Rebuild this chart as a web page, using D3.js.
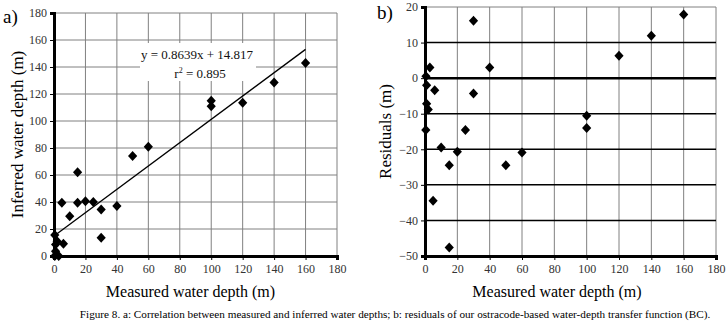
<!DOCTYPE html>
<html><head><meta charset="utf-8">
<script src="https://cdn.jsdelivr.net/npm/d3@7"></script>
<style>body{margin:0;background:#fff}svg{display:block}</style>
</head><body>
<script>
// Panel a: measured vs inferred water depth (m)
const measuredA = [0.5, 3, 1, 1, 2, 6, 0.5, 5, 10, 15, 15, 20, 25, 30, 30, 40, 50, 60, 100, 100, 120, 140, 160];
const inferredA = [0, 0, 3.5, 8.5, 11, 9, 15.5, 39.5, 29.5, 39.5, 62, 40.5, 40, 34.5, 13.5, 37, 74, 81, 111, 115, 113.5, 128.5, 143];
// Panel b: residuals (m)
const measuredB = [0.6, 3, 1, 1, 2, 6, 0.5, 5, 10, 15, 15, 20, 25, 30, 30, 40, 50, 60, 100, 100, 120, 140, 160];
const residualsB = [0.5, 3, -2, -7.2, -8.8, -3.4, -14.6, -34.5, -19.5, -24.5, -47.6, -20.7, -14.6, 16.1, -4.3, 3, -24.5, -20.9, -10.6, -14, 6.3, 11.9, 17.9];
const fitSlope = 0.8639, fitIntercept = 14.817;
const fitRange = [0, 160];
const ticksA_x = [0,20,40,60,80,100,120,140,160,180];
const ticksA_y = [0,20,40,60,80,100,120,140,160,180];
const ticksB_y = [-50,-40,-30,-20,-10,0,10,20];

const FONT = "'Liberation Serif', 'Times New Roman', 'DejaVu Serif', serif";
const W = 726, H = 324;
const svg = d3.select("body").append("svg").attr("width", W).attr("height", H)
  .style("font-family", FONT);
const diamond = "M0,-5L4.6,0L0,5L-4.6,0Z";
function txt(sel){ return sel.style("font-family", FONT); }

// ---------- Panel a ----------
const xa = d3.scaleLinear().domain([0,180]).range([54,337]);
const ya = d3.scaleLinear().domain([0,180]).range([256,13]);
const ga = svg.append("g");
ga.selectAll("line.vg").data(ticksA_x.slice(1)).join("line")
  .attr("x1", d=>xa(d)).attr("x2", d=>xa(d)).attr("y1", ya(0)).attr("y2", ya(180))
  .attr("stroke", "#808080").attr("stroke-width", 1);
ga.selectAll("line.hg").data(ticksA_y.slice(1)).join("line")
  .attr("x1", xa(0)).attr("x2", xa(180)).attr("y1", d=>ya(d)).attr("y2", d=>ya(d))
  .attr("stroke", "#808080").attr("stroke-width", 1);
// fit label background
ga.append("rect").attr("x", 140).attr("y", 43).attr("width", 116).attr("height", 38).attr("fill", "#fff");
txt(ga.append("text")).attr("x", 197).attr("y", 59).attr("text-anchor","middle").attr("font-size", 13).attr("fill","#111")
  .text("y = 0.8639x + 14.817");
const r2 = txt(ga.append("text")).attr("x", 200).attr("y", 78).attr("text-anchor","middle").attr("font-size", 13).attr("fill","#111");
r2.append("tspan").text("r");
r2.append("tspan").attr("font-size", 8).attr("dy", -5).text("2");
r2.append("tspan").attr("dy", 5).text(" = 0.895");
// regression line
ga.append("line").attr("x1", xa(fitRange[0])).attr("y1", ya(fitIntercept + fitSlope*fitRange[0]))
  .attr("x2", xa(fitRange[1])).attr("y2", ya(fitIntercept + fitSlope*fitRange[1]))
  .attr("stroke", "#000").attr("stroke-width", 1.3);
// axes
const axA_x = d3.axisBottom(xa).tickValues(ticksA_x).tickSize(4).tickPadding(4);
const axA_y = d3.axisLeft(ya).tickValues(ticksA_y).tickSize(4).tickPadding(3);
const gxa = ga.append("g").attr("transform", `translate(0,${ya(0)})`).call(axA_x);
const gya = ga.append("g").attr("transform", `translate(${xa(0)},0)`).call(axA_y);
function styleAxis(g){
  g.attr("font-family", null).style("font-family", FONT);
  g.select(".domain").attr("stroke", "#000").attr("stroke-width", 3);
  g.selectAll(".tick line").attr("stroke", "#000");
  g.selectAll(".tick text").style("font-family", FONT).attr("font-size", 12).attr("fill", "#333");
}
[gxa, gya].forEach(styleAxis);
// points
ga.selectAll("path.pt").data(measuredA.map((m,i)=>[m, inferredA[i]])).join("path")
  .attr("d", diamond).attr("transform", d=>`translate(${xa(d[0])},${ya(d[1])})`).attr("fill", "#000");
// titles
txt(svg.append("text")).attr("x", 3).attr("y", 23).attr("font-size", 19).text("a)");
txt(svg.append("text")).attr("transform", `translate(23,${(ya(0)+ya(180))/2}) rotate(-90)`).attr("text-anchor","middle")
  .attr("font-size", 17).text("Inferred water depth (m)");
txt(svg.append("text")).attr("x", (xa(0)+xa(180))/2 - 5).attr("y", 297).attr("text-anchor","middle")
  .attr("font-size", 16).text("Measured water depth (m)");

// ---------- Panel b ----------
const xb = d3.scaleLinear().domain([0,180]).range([425,716]);
const yb = d3.scaleLinear().domain([-50,20]).range([256,7]);
const gb = svg.append("g");
gb.selectAll("line.vg").data(ticksA_x.slice(1)).join("line")
  .attr("x1", d=>xb(d)).attr("x2", d=>xb(d)).attr("y1", yb(-50)).attr("y2", yb(20))
  .attr("stroke", "#808080").attr("stroke-width", 1);
gb.selectAll("line.hg").data(ticksB_y.filter(d=>d!==-50 && d!==0)).join("line")
  .attr("x1", xb(0)).attr("x2", xb(180)).attr("y1", d=>yb(d)).attr("y2", d=>yb(d))
  .attr("stroke", d => d===20 ? "#808080" : "#000").attr("stroke-width", d => d===20 ? 1 : 1.5);
gb.append("line").attr("x1", xb(0)).attr("x2", xb(180)).attr("y1", yb(0)).attr("y2", yb(0))
  .attr("stroke", "#000").attr("stroke-width", 2.5);
const axB_x = d3.axisBottom(xb).tickValues(ticksA_x).tickSize(4).tickPadding(4);
const axB_y = d3.axisLeft(yb).tickValues(ticksB_y).tickSize(4).tickPadding(3);
const gxb = gb.append("g").attr("transform", `translate(0,${yb(-50)})`).call(axB_x);
const gyb = gb.append("g").attr("transform", `translate(${xb(0)},0)`).call(axB_y);
[gxb, gyb].forEach(styleAxis);
gb.selectAll("path.pt").data(measuredB.map((m,i)=>[m, residualsB[i]])).join("path")
  .attr("d", diamond).attr("transform", d=>`translate(${xb(d[0])},${yb(d[1])})`).attr("fill", "#000");
txt(svg.append("text")).attr("x", 377).attr("y", 19).attr("font-size", 19).text("b)");
txt(svg.append("text")).attr("transform", `translate(391,${(yb(-50)+yb(20))/2}) rotate(-90)`).attr("text-anchor","middle")
  .attr("font-size", 17).text("Residuals (m)");
txt(svg.append("text")).attr("x", 557).attr("y", 297).attr("text-anchor","middle")
  .attr("font-size", 16).text("Measured water depth (m)");

// caption
txt(svg.append("text")).attr("x", 395).attr("y", 318).attr("text-anchor","middle").attr("font-size", 11.2)
  .text("Figure 8. a: Correlation between measured and inferred water depths; b: residuals of our ostracode-based water-depth transfer function (BC).");
</script>
</body></html>
